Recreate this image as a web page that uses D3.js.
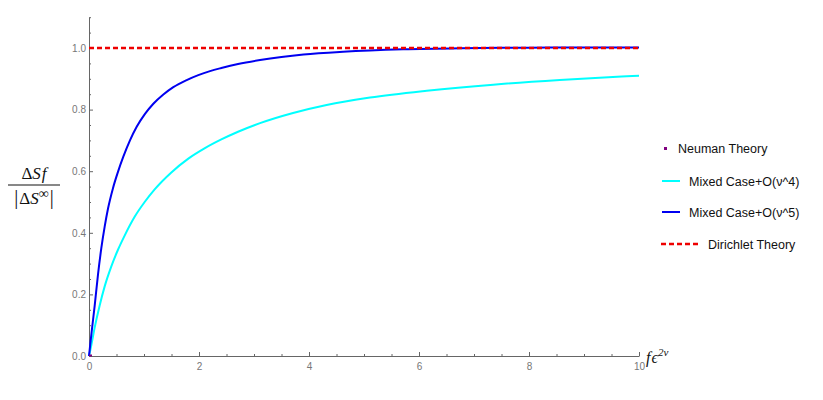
<!DOCTYPE html>
<html>
<head>
<meta charset="utf-8">
<script src="https://cdn.jsdelivr.net/npm/d3@7"></script>
<style>
html,body{margin:0;padding:0;background:#fff;}
svg{display:block;}
</style>
</head>
<body>
<svg id="chart" width="823" height="400"></svg>
<script>
// ---- data ----
const xTicks = [0, 2, 4, 6, 8, 10];
const yTicks = [0, 0.2, 0.4, 0.6, 0.8, 1.0];

const blueX = [0, 0.02, 0.048, 0.103, 0.164, 0.224, 0.285, 0.345, 0.436, 0.527, 0.624, 0.745, 0.867, 1.018, 1.17, 1.352, 1.533, 1.776, 1.987, 2.2, 2.406, 2.71, 3.11, 3.5, 3.9, 4.62, 5.71, 6.75, 8, 9, 10];
const blueY = [0, 0.033, 0.078, 0.163, 0.265, 0.35, 0.42, 0.478, 0.545, 0.598, 0.647, 0.7, 0.744, 0.786, 0.819, 0.849, 0.873, 0.896, 0.912, 0.925, 0.935, 0.948, 0.961, 0.971, 0.979, 0.988, 0.996, 0.9995, 1.001, 1.002, 1.002];

const cyanX = [0, 0.042, 0.103, 0.194, 0.285, 0.406, 0.527, 0.648, 0.83, 1.012, 1.194, 1.497, 1.8, 2.1, 2.406, 2.71, 3.11, 3.71, 4.32, 5.11, 6.14, 7.35, 8.56, 9.78, 10];
const cyanY = [0, 0.035, 0.092, 0.164, 0.226, 0.291, 0.345, 0.391, 0.452, 0.5, 0.541, 0.596, 0.64, 0.674, 0.703, 0.728, 0.756, 0.789, 0.815, 0.839, 0.861, 0.881, 0.896, 0.908, 0.91];

const dirichletX = [0, 10];
const dirichletY = [1, 1];

const neumanX = [0];
const neumanY = [0];

const legendLabels = ["Neuman Theory", "Mixed Case+O(\u03BD^4)", "Mixed Case+O(\u03BD^5)", "Dirichlet Theory"];

// ---- drawing ----
const svg = d3.select("#chart");
const x = d3.scaleLinear().domain([0, 10]).range([89, 639]);
const y = d3.scaleLinear().domain([0, 1]).range([356, 48]);
const yTop = 1.1;
const axisColor = "#666";
const labelColor = "#777";

const xMinor = d3.range(0, 10.001, 0.5).filter(v => Math.abs(v / 2 - Math.round(v / 2)) > 1e-6);
const yMinor = d3.range(0, yTop + 0.001, 0.05).filter(v => Math.abs(v * 5 - Math.round(v * 5)) > 1e-6);

const yScaleFull = y.copy().domain([0, yTop]).range([356, y(yTop)]);

const gy = svg.append("g").attr("transform", "translate(89,0)")
  .call(d3.axisLeft(yScaleFull).tickValues(yTicks).tickSize(-4).tickSizeOuter(0).tickPadding(3).tickFormat(d3.format(".1f")));
gy.select(".domain").attr("stroke", axisColor);
gy.selectAll(".tick line").attr("stroke", axisColor);
gy.selectAll(".tick text").attr("fill", labelColor).attr("font-family", "Liberation Sans, Arial, sans-serif").attr("font-size", "10px");

const gym = svg.append("g").attr("transform", "translate(89,0)")
  .call(d3.axisLeft(yScaleFull).tickValues(yMinor).tickSize(-2).tickSizeOuter(0).tickFormat(""));
gym.select(".domain").remove();
gym.selectAll(".tick line").attr("stroke", axisColor);

const gx = svg.append("g").attr("transform", "translate(0,356)")
  .call(d3.axisBottom(x).tickValues(xTicks).tickSize(-4).tickSizeOuter(0).tickPadding(6.5).tickFormat(d3.format("d")));
gx.select(".domain").attr("stroke", axisColor);
gx.selectAll(".tick line").attr("stroke", axisColor);
gx.selectAll(".tick text").attr("fill", labelColor).attr("font-family", "Liberation Sans, Arial, sans-serif").attr("font-size", "10px");

const gxm = svg.append("g").attr("transform", "translate(0,356)")
  .call(d3.axisBottom(x).tickValues(xMinor).tickSize(-2).tickSizeOuter(0).tickFormat(""));
gxm.select(".domain").remove();
gxm.selectAll(".tick line").attr("stroke", axisColor);

// curves
const line = d3.line().x(d => x(d[0])).y(d => y(d[1])).curve(d3.curveMonotoneX);
const zip = (a, b) => a.map((v, i) => [v, b[i]]);

svg.append("path").datum(zip(cyanX, cyanY)).attr("d", line)
  .attr("fill", "none").attr("stroke", "#00ffff").attr("stroke-width", 2);
svg.append("path").datum(zip(blueX, blueY)).attr("d", line)
  .attr("fill", "none").attr("stroke", "#0000f0").attr("stroke-width", 2);
svg.append("path").datum(zip(dirichletX, dirichletY)).attr("d", d3.line().x(d => x(d[0])).y(d => y(d[1])))
  .attr("fill", "none").attr("stroke", "#ee0000").attr("stroke-width", 2.5).attr("stroke-dasharray", "5,3");
svg.selectAll("rect.neu").data(zip(neumanX, neumanY)).enter().append("rect").attr("class", "neu")
  .attr("x", d => x(d[0])).attr("y", d => y(d[1]) - 1.5).attr("width", 3).attr("height", 2)
  .attr("fill", "#800080");

// legend
const lg = svg.append("g").attr("font-family", "Liberation Sans, Arial, sans-serif").attr("font-size", "12.5px").attr("fill", "#111");
lg.append("rect").attr("x", 664).attr("y", 147).attr("width", 3).attr("height", 3).attr("fill", "#800080");
lg.append("text").attr("x", 678).attr("y", 148).attr("dy", "0.36em").text(legendLabels[0]);
lg.append("line").attr("x1", 662).attr("x2", 680).attr("y1", 181).attr("y2", 181).attr("stroke", "#00ffff").attr("stroke-width", 2);
lg.append("text").attr("x", 689).attr("y", 181).attr("dy", "0.36em").text(legendLabels[1]);
lg.append("line").attr("x1", 662).attr("x2", 680).attr("y1", 212).attr("y2", 212).attr("stroke", "#0000f0").attr("stroke-width", 2);
lg.append("text").attr("x", 689).attr("y", 212).attr("dy", "0.36em").text(legendLabels[2]);
lg.append("line").attr("x1", 661).attr("x2", 700).attr("y1", 244).attr("y2", 244).attr("stroke", "#ee0000").attr("stroke-width", 2.5).attr("stroke-dasharray", "5,3");
lg.append("text").attr("x", 708).attr("y", 244).attr("dy", "0.36em").text(legendLabels[3]);

// y-axis label (fraction)
const serif = "Liberation Serif, Times New Roman, serif";
const yl = svg.append("g").attr("font-family", serif).attr("font-size", "17px").attr("fill", "#111");
const num = yl.append("text").attr("x", 34).attr("y", 179).attr("text-anchor", "middle");
num.append("tspan").text("\u0394");
num.append("tspan").attr("font-style", "italic").text("S");
num.append("tspan").attr("font-style", "italic").attr("dx", 1).text("f");
yl.append("line").attr("x1", 8).attr("x2", 60).attr("y1", 185).attr("y2", 185).attr("stroke", "#111").attr("stroke-width", 1);
const den = yl.append("text").attr("x", 34).attr("y", 204).attr("text-anchor", "middle");
den.append("tspan").attr("font-size", "20px").text("|");
den.append("tspan").attr("dx", 1).text("\u0394");
den.append("tspan").attr("font-style", "italic").text("S");
den.append("tspan").attr("font-size", "14px").attr("dy", -6).text("\u221E");
den.append("tspan").attr("font-size", "20px").attr("dy", 6).attr("dx", 1).text("|");

// x-axis label
const xl = svg.append("text").attr("x", 646).attr("y", 363).attr("font-family", serif).attr("font-size", "16px").attr("font-style", "italic").attr("fill", "#111");
xl.append("tspan").text("f");
xl.append("tspan").attr("dx", 1).text("\u03F5");
xl.append("tspan").attr("font-size", "11px").attr("dy", -7).text("2\u03BD");
</script>
</body>
</html>
